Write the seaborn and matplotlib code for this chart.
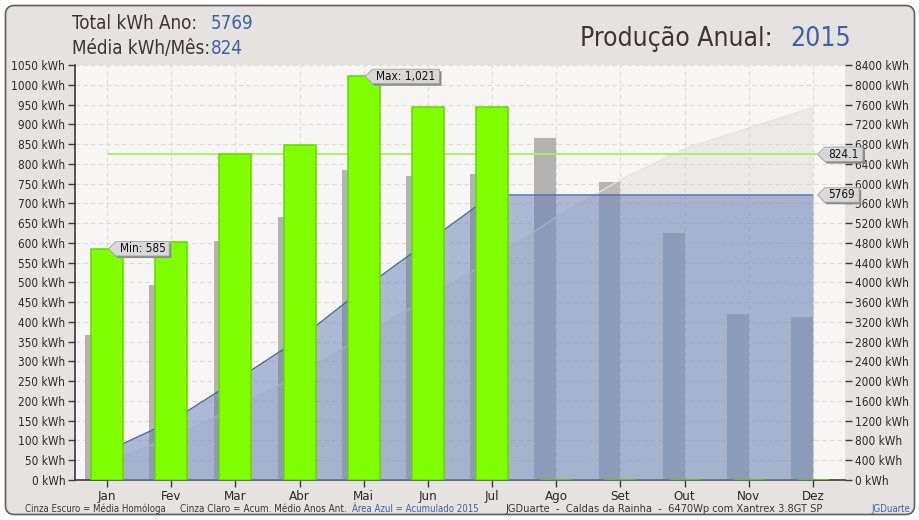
import numpy as np
import pandas as pd
import matplotlib
matplotlib.use('Agg')
import matplotlib.pyplot as plt
import matplotlib.patheffects as pe
from matplotlib.patches import FancyBboxPatch
from matplotlib.path import Path
from matplotlib.transforms import IdentityTransform
import seaborn as sns

# ==========================================
# Dados
# ==========================================
MESES = ['Jan', 'Fev', 'Mar', 'Abr', 'Mai', 'Jun', 'Jul', 'Ago', 'Set', 'Out', 'Nov', 'Dez']
PRODUCAO_2015 = [585, 603, 824, 847, 1021, 945, 944, 0, 0, 0, 0, 0]
MEDIA_HOMOLOGA = [367, 494, 605, 665, 784, 769, 774, 865, 754, 625, 420, 413]
ACUM_2015 = [585, 1188, 2012, 2859, 3880, 4825, 5769, 5769, 5769, 5769, 5769, 5769]
ACUM_MEDIO_ANT = [367, 861, 1466, 2131, 2915, 3684, 4458, 5323, 6077, 6702, 7122, 7535]
TOTAL_ANO = 5769
MEDIA_MES = 824.1
ANO = 2015
Y_ESQ = list(range(0, 1051, 50))
Y_DIR = list(range(0, 8401, 400))
ESCALA = Y_DIR[-1] / Y_ESQ[-1]

# cores
VERDE = '#80ff00'
CINZA = '#b3b3b3'
AZUL = '#5a78b4'
AZUL_TXT = '#3d62a8'
TXT = '#3b3631'
FUNDO = '#e6e2df'
PLOT_BG = '#f7f6f4'

sns.set_theme(style='white')
plt.rcParams['font.family'] = ['DejaVu Sans']
plt.rcParams['font.stretch'] = 'condensed'

W, H = 920, 520
fig = plt.figure(figsize=(W / 100, H / 100), dpi=100, facecolor='white')
fig.add_artist(FancyBboxPatch((5.5, 5.5), 909, 509, boxstyle='round,pad=0,rounding_size=9',
                              transform=IdentityTransform(), fc=FUNDO, ec='#5e5e5e', lw=1.2, zorder=-5))

ax = fig.add_axes([75 / W, 40 / H, 770 / W, 415 / H])
ax.set_facecolor(PLOT_BG)
x = np.arange(len(MESES))

# media homologa (cinza escuro)
ax.bar(x, MEDIA_HOMOLOGA, width=-0.34, align='edge', color=CINZA, lw=0, zorder=2)

# acumulados (eixo direito)
acum_ant = np.array(ACUM_MEDIO_ANT) / ESCALA
acum_15 = np.array(ACUM_2015) / ESCALA
ax.fill_between(x, acum_ant, color='#d0d0d0', alpha=0.3, lw=0, zorder=3)
ax.plot(x, acum_ant, color='#e2e2e2', lw=1, zorder=3)
ax.fill_between(x, acum_15, color=AZUL, alpha=0.48, lw=0, zorder=4)
ax.plot(x, acum_15, color='#4a66a6', lw=1, zorder=4)

# media mensal
ax.hlines(MEDIA_MES, x[0], x[-1] + 0.06, color='#a8f060', lw=1.3, zorder=5)

# producao 2015
df = pd.DataFrame({'pos': x, 'producao': PRODUCAO_2015})
sns.barplot(data=df, x='pos', y='producao', native_scale=True, width=0.5, color=VERDE,
            saturation=1, errorbar=None, edgecolor='#6ad600', linewidth=1.1, zorder=6, ax=ax)

ax.set_xlim(-0.5, len(MESES) - 0.5)
ax.set_ylim(Y_ESQ[0], Y_ESQ[-1])
ax.set_xticks(x, MESES)
ax.set_yticks(Y_ESQ, [f'{v} kWh' for v in Y_ESQ])
ax.set_xlabel('')
ax.set_ylabel('')
ax.grid(True, color='#dadada', ls=(0, (4, 3)), lw=0.8)
ax.set_axisbelow(True)
for s in ['top', 'right']:
    ax.spines[s].set_visible(False)
for s in ['left', 'bottom']:
    ax.spines[s].set_color('#3a3a3a')
    ax.spines[s].set_linewidth(1.2)
ax.tick_params(axis='both', direction='out', length=5, width=1, color='#3a3a3a',
               labelsize=8.5, labelcolor='#2a2a2a', pad=2, left=True, bottom=True)
ax.tick_params(axis='x', labelsize=9.5, pad=2.5)

sec = ax.secondary_yaxis('right', functions=(lambda v: v * ESCALA, lambda v: v / ESCALA))
sec.set_yticks(Y_DIR, [f'{v} kWh' for v in Y_DIR])
sec.spines['right'].set_visible(False)
sec.tick_params(direction='out', length=5, width=1, color='#3a3a3a', labelsize=8.5,
                labelcolor='#2a2a2a', pad=2)


# etiquetas em forma de seta
def tag_box(x0, y0, width, height, mutation_size):
    padx, pady = 0.33 * mutation_size, 0.06 * mutation_size
    x0, y0 = x0 - padx, y0 - pady
    width, height = width + 2 * padx, height + 2 * pady
    ponta = height / 2
    verts = [(x0, y0), (x0 + width, y0), (x0 + width, y0 + height), (x0, y0 + height),
             (x0 - ponta, y0 + height / 2), (x0, y0)]
    return Path(verts, [Path.MOVETO] + [Path.LINETO] * 4 + [Path.CLOSEPOLY])


def etiqueta(xv, yv, texto, dx=9):
    ann = ax.annotate(texto, xy=(xv, yv), xytext=(dx, 0), textcoords='offset points',
                      ha='left', va='center', fontsize=8.5, color='#111111', zorder=9,
                      annotation_clip=False,
                      bbox=dict(boxstyle=tag_box, fc='#d8d8d8', ec='#a0a0a0', lw=0.6))
    ann.get_bbox_patch().set_path_effects([
        pe.SimplePatchShadow(offset=(1.5, -1.5), shadow_rgbFace='#8a8a8a', alpha=1),
        pe.Normal()])


i_min = int(np.argmin(PRODUCAO_2015[:7]))
i_max = int(np.argmax(PRODUCAO_2015))
etiqueta(x[i_min], PRODUCAO_2015[i_min], f'Min: {PRODUCAO_2015[i_min]:,}')
etiqueta(x[i_max], PRODUCAO_2015[i_max], f'Max: {PRODUCAO_2015[i_max]:,}')
etiqueta(x[-1] + 0.05, MEDIA_MES, f'{MEDIA_MES}')
etiqueta(x[-1] + 0.05, TOTAL_ANO / ESCALA, f'{TOTAL_ANO}')

# cabecalho
fy = lambda py: 1 - py / H
fig.text(72 / W, fy(28.7), 'Total kWh Ano:', fontsize=13.5, color=TXT, va='baseline')
fig.text(211 / W, fy(28.7), f'{TOTAL_ANO}', fontsize=13.5, color=AZUL_TXT, va='baseline')
fig.text(72 / W, fy(53.7), 'Média kWh/Mês:', fontsize=13.5, color=TXT, va='baseline')
fig.text(211 / W, fy(53.7), f'{round(MEDIA_MES)}', fontsize=13.5, color=AZUL_TXT, va='baseline')
fig.text(773 / W, fy(45.7), 'Produção Anual:', fontsize=19, color=TXT, va='baseline', ha='right')
fig.text(790 / W, fy(45.7), f'{ANO}', fontsize=19, color=AZUL_TXT, va='baseline')

# rodape
fig.text(25 / W, fy(512.5), 'Cinza Escuro = Média Homóloga', fontsize=6.9, color=TXT, va='baseline')
fig.text(180 / W, fy(512.5), 'Cinza Claro = Acum. Médio Anos Ant.', fontsize=7.1, color=TXT, va='baseline')
fig.text(352 / W, fy(512.5), f'Área Azul = Acumulado {ANO}', fontsize=6.9, color=AZUL_TXT, va='baseline')
fig.text(505 / W, fy(512.5), 'JGDuarte  -  Caldas da Rainha  -  6470Wp com Xantrex 3.8GT SP',
         fontsize=7.9, color=TXT, va='baseline')
fig.text(910 / W, fy(512.5), 'JGDuarte', fontsize=6.9, color=AZUL_TXT, va='baseline', ha='right')

fig.savefig('out.png', dpi=100, facecolor='white')
